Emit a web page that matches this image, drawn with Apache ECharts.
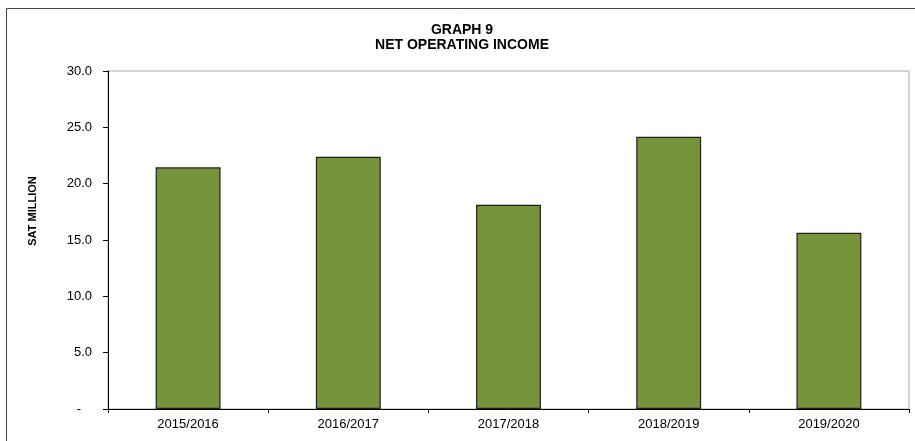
<!DOCTYPE html>
<html>
<head>
<meta charset="utf-8">
<script src="https://cdn.jsdelivr.net/npm/echarts@6/dist/echarts.min.js"></script>
<style>
html,body{margin:0;padding:0;background:#fff;}
#chart{width:915px;height:441px;}
</style>
</head>
<body>
<div id="chart"></div>
<script>
var categories = ['2015/2016', '2016/2017', '2017/2018', '2018/2019', '2019/2020'];
var netOperatingIncome = [21.45, 22.39, 18.13, 24.17, 15.65];
var yTicks = [0, 5, 10, 15, 20, 25, 30];
var titleLines = ['GRAPH 9', 'NET OPERATING INCOME'];
var yAxisTitle = 'SAT MILLION';

var chart = echarts.init(document.getElementById('chart'), null, {renderer: 'canvas'});
var font = 'Liberation Sans, Arial, sans-serif';
chart.setOption({
  animation: false,
  backgroundColor: '#ffffff',
  graphic: [{
    type: 'rect',
    shape: {x: 6.5, y: 8.5, width: 920, height: 440},
    style: {fill: 'none', stroke: '#444', lineWidth: 1},
    silent: true
  }, {
    type: 'text',
    x: 33, y: 211,
    rotation: Math.PI / 2,
    style: {
      text: yAxisTitle, fill: '#000',
      font: 'bold 11px Liberation Sans, Arial, sans-serif',
      align: 'center', verticalAlign: 'middle'
    },
    silent: true
  }],
  title: {
    text: titleLines.join('\n'),
    left: 457,
    textAlign: 'center',
    top: 18,
    textStyle: {fontFamily: font, fontSize: 14, fontWeight: 'bold', color: '#000', lineHeight: 15}
  },
  grid: {
    left: 108, right: 6, top: 71, bottom: 32,
    show: true, borderColor: '#a6a6a6', borderWidth: 1
  },
  xAxis: {
    type: 'category',
    data: categories,
    axisLine: {lineStyle: {color: '#000', width: 1}},
    axisTick: {show: true, length: 4, lineStyle: {color: '#000'}},
    axisLabel: {fontFamily: font, fontSize: 13, color: '#000', margin: 9}
  },
  yAxis: {
    type: 'value',
    min: yTicks[0],
    max: yTicks[yTicks.length - 1],
    interval: yTicks[1] - yTicks[0],
    axisLine: {show: true, lineStyle: {color: '#000', width: 1}},
    axisTick: {show: true, length: 5, lineStyle: {color: '#000'}},
    splitLine: {show: false},
    axisLabel: {
      fontFamily: font, fontSize: 13, color: '#000', margin: 16,
      formatter: function (v) { return v === 0 ? '-   ' : v.toFixed(1); }
    }
  },
  series: [{
    type: 'bar',
    data: netOperatingIncome,
    barWidth: '40.5%',
    itemStyle: {color: '#77933C', borderColor: '#1f1f1f', borderWidth: 1.2}
  }]
});
</script>
</body>
</html>
